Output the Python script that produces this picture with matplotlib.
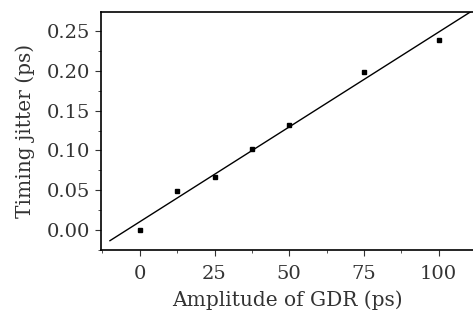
import numpy as np
import matplotlib
matplotlib.use('Agg')
import matplotlib.pyplot as plt
from matplotlib.ticker import MultipleLocator

gdr = [0, 12.5, 25, 37.5, 50, 75, 100]
jitter = [0.000, 0.049, 0.067, 0.102, 0.132, 0.199, 0.239]

plt.rcParams['font.family'] = 'DejaVu Serif'

fig = plt.figure(figsize=(4.73, 3.2), dpi=100)
ax = fig.add_axes([0.2135, 0.219, 0.7865, 0.7435])

# linear fit through the points
k, b = np.polyfit(gdr, jitter, 1)
xs = np.array([-10, 111])
ax.plot(xs, k * xs + b, color='black', lw=1.0)
ax.plot(gdr, jitter, 's', color='black', ms=3.5)

ax.set_xlim(-13, 111.5)
ax.set_ylim(-0.025, 0.274)
ax.xaxis.set_major_locator(MultipleLocator(25))
ax.xaxis.set_minor_locator(MultipleLocator(12.5))
ax.yaxis.set_major_locator(MultipleLocator(0.05))
ax.yaxis.set_minor_locator(MultipleLocator(0.025))
ax.yaxis.set_major_formatter(plt.FuncFormatter(lambda v, p: '%.2f' % v))
ax.tick_params(which='both', direction='out', labelsize=14, color='#333333',
               labelcolor='#333333')
ax.tick_params(which='major', length=4)
ax.tick_params(which='minor', length=2.5)
ax.tick_params(axis='x', which='major', pad=7)
ax.spines['right'].set_visible(False)
for s in ['left', 'bottom', 'top']:
    ax.spines[s].set_linewidth(1.2)

ax.set_xlabel('Amplitude of GDR (ps)', fontsize=14.5, color='#333333', labelpad=5)
ax.set_ylabel('Timing jitter (ps)', fontsize=14.5, color='#333333', labelpad=9)

fig.savefig('out.png', dpi=100)
